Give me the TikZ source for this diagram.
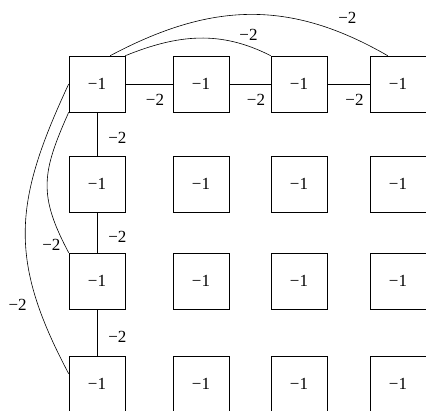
\documentclass[tikz,border=0pt]{standalone}
\usepackage{fontspec}
\setmainfont{Liberation Serif}
\begin{document}
\begin{tikzpicture}[x=1pt,y=-1pt,line width=0.6pt,
  cell/.style={draw,minimum size=56pt,inner sep=0pt,font=\fontsize{17}{20}\selectfont},
  wt/.style={font=\fontsize{17}{20}\selectfont,inner sep=2pt}]
  \useasboundingbox (0,0) rectangle (426,410);
  \clip (0,0) rectangle (426,410);
  % grid of cells
  \foreach \x/\i in {97/1,201/2,299/3,398/4}
    \foreach \y/\j in {84/1,184/2,281/3,384/4}
      \node[cell] (v\i\j) at (\x,\y) {−1};
  % first row
  \draw (v11) -- (v21) node[midway,below,xshift=6pt,yshift=-8pt,wt] {−2};
  \draw (v21) -- (v31) node[midway,below,xshift=6pt,yshift=-8pt,wt] {−2};
  \draw (v31) -- (v41) node[midway,below,xshift=6pt,yshift=-8pt,wt] {−2};
  % first column
  \draw (v11) -- (v12) node[midway,right,xshift=9pt,yshift=-4pt,wt] {−2};
  \draw (v12) -- (v13) node[midway,right,xshift=9pt,yshift=-4pt,wt] {−2};
  \draw (v13) -- (v14) node[midway,right,xshift=9pt,yshift=-4pt,wt] {−2};
  % long edges
  \draw (v11.65) to[out=28,in=150,looseness=1.05] node[pos=0.86,above,yshift=10pt,wt] {−2} (v41.110);
  \draw (v11.north east) to[out=22,in=153] node[pos=0.85,above,yshift=3pt,wt] {−2} (v31.north west);
  \draw (v11.south west) to[out=246,in=118,looseness=1.2] node[pos=0.93,left,yshift=-4pt,wt] {−2} (v13.north west);
  \draw (v11.west) to[out=245,in=118,looseness=1.15] node[pos=0.78,left,xshift=-9pt,wt] {−2} (v14.160);
\end{tikzpicture}
\end{document}
